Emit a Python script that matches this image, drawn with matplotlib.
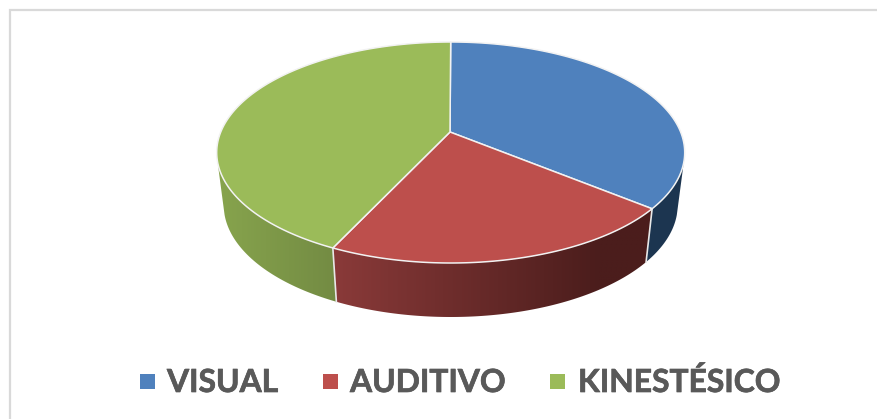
import numpy as np
import matplotlib
matplotlib.use("Agg")
import matplotlib.pyplot as plt
import matplotlib.patheffects as pe
from matplotlib.patches import Polygon, Rectangle
from matplotlib.colors import LinearSegmentedColormap

categories = ["VISUAL", "AUDITIVO", "KINESTÉSICO"]
values = [33.5, 24.9, 41.6]
top_colors = ["#4f81bd", "#bd4f4c", "#9bbb59"]
side_left = ["#1c3550", "#8a3a39", "#87a44d"]
side_right = ["#1c3550", "#4b1d1c", "#738b43"]

W, H = 877, 419
CX, APEX_X, APEX_Y = 450.7, 450, 132
TOP_CY, TOP_A, TOP_B = 152.5, 234, 110.5
BOT_CY, BOT_A, BOT_B = 205, 227, 112

fig = plt.figure(figsize=(W / 100, H / 100), dpi=100)
ax = fig.add_axes([0, 0, 1, 1])
ax.set_xlim(0, W)
ax.set_ylim(H, 0)
ax.axis("off")


def ell(theta, cy, a, b):
    return np.column_stack([CX + a * np.sin(theta), cy - b * np.cos(theta)])


ax.plot([10, 10, W], [H, 10, 10], color="#d9d9d9", lw=1.6, solid_joinstyle="miter", zorder=1)

edges = np.radians(np.concatenate([[0], np.cumsum(values) / np.sum(values) * 360]))

# side walls, only the part facing the viewer
vis_lo, vis_hi = np.radians(95), np.radians(265)
for i in range(len(values)):
    t0, t1 = max(edges[i], vis_lo), min(edges[i + 1], vis_hi)
    if t1 <= t0:
        continue
    th = np.linspace(t0, t1, 200)
    pts = np.vstack([ell(th, TOP_CY, TOP_A, TOP_B), ell(th[::-1], BOT_CY, BOT_A, BOT_B)])
    poly = Polygon(pts, closed=True, facecolor="none", edgecolor="none", zorder=2)
    ax.add_patch(poly)
    x0, x1 = pts[:, 0].min(), pts[:, 0].max()
    y0, y1 = pts[:, 1].min(), pts[:, 1].max()
    cmap = LinearSegmentedColormap.from_list("s", [side_left[i], side_right[i]])
    if i == 2:
        ramp = np.linspace(0, 1, 256)[None, :]
    elif i == 1:
        ramp = np.clip(np.linspace(0, 1.2, 256), 0, 1)[None, :]
    else:
        ramp = np.zeros((1, 2))
    im = ax.imshow(ramp, extent=[x0, x1, y1, y0], cmap=cmap, vmin=0, vmax=1,
                   aspect="auto", zorder=2, interpolation="bilinear")
    im.set_clip_path(poly)

# seams on the wall
for e in edges:
    if vis_lo < e < vis_hi:
        p = ell(np.array([e]), TOP_CY, TOP_A, TOP_B)[0]
        q = ell(np.array([e]), BOT_CY, BOT_A, BOT_B)[0]
        ax.plot([p[0], q[0]], [p[1], q[1]], color="#e8e8e8", lw=1.2, zorder=3)

# top face
for i in range(len(values)):
    th = np.linspace(edges[i], edges[i + 1], 200)
    arc = ell(th, TOP_CY, TOP_A, TOP_B)
    pts = np.vstack([[APEX_X, APEX_Y], arc])
    ax.add_patch(Polygon(pts, closed=True, facecolor=top_colors[i], edgecolor="#f2f2f2",
                         lw=1.1, joinstyle="round", zorder=4))

ax.set_xlim(0, W)
ax.set_ylim(H, 0)

# legend
marker_x = [140, 323, 550]
text_x = [167, 350, 578]
for mx, tx, name, col in zip(marker_x, text_x, categories, top_colors):
    ax.add_patch(Rectangle((mx, 374), 15, 15, facecolor=col, edgecolor="none", zorder=5))
    ax.text(tx, 392, name, family="Lato", weight="bold", fontsize=22.9, color="#595959",
            ha="left", va="baseline", zorder=5,
            path_effects=[pe.withStroke(linewidth=0.5, foreground="#595959")])

fig.savefig("out.png", dpi=100, facecolor="white")
